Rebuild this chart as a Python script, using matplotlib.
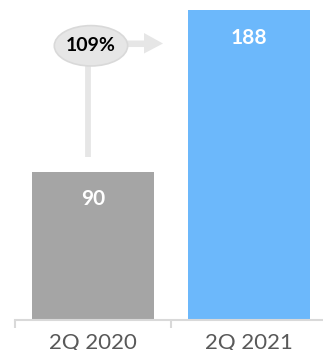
import matplotlib
matplotlib.use("Agg")
import matplotlib.pyplot as plt
from matplotlib.patches import Ellipse, Polygon

categories = ["2Q 2020", "2Q 2021"]
values = [90, 188]
growth_label = "109%"

BAR_COLORS = ["#a5a5a5", "#6cb8fb"]
AXIS_GRAY = "#d9d9d9"
plt.rcParams["font.family"] = ["Lato", "DejaVu Sans"]

W, H = 323, 350
fig = plt.figure(figsize=(W / 100, H / 100), dpi=100)
# axis line sits ~30px above the bottom, category slots are 156px wide
ax = fig.add_axes([15 / W, 30 / H, 1.0, 320 / H])
ax.set_xlim(-0.5, -0.5 + W / 156)
ax.set_ylim(0, 194.3)

x = list(range(len(categories)))
ax.bar(x, values, width=0.78, color=BAR_COLORS)

for xi, v in zip(x, values):
    ax.text(xi, v - 16.5, str(v), ha="center", va="center", color="white",
            fontsize=15, fontweight="bold")

# growth callout: stem from the 2020 bar up to an ellipse, arrow to 2021
ex, ey = -0.013, 166.5
ax.plot([-0.03, -0.03], [99, ey], color="#e6e6e6", lw=4.2, solid_capstyle="butt", zorder=1)
ax.add_patch(Ellipse((ex, ey), 0.47, 24.5, facecolor="#e6e6e6", edgecolor="#d9d9d9",
                     lw=1.2, zorder=3))
px = lambda p: (p - 15) / 156 - 0.5
py = lambda p: (320 - p) / 1.647
arrow = [(px(127), py(40.5)), (px(144), py(40.5)), (px(144), py(33)), (px(163), py(43.5)),
         (px(144), py(53.5)), (px(144), py(47)), (px(127), py(47))]
ax.add_patch(Polygon(arrow, closed=True, facecolor="#e6e6e6", edgecolor="none", zorder=2))
ax.text(ex, ey, growth_label, ha="center", va="center", fontsize=14,
        fontweight="bold", color="black", zorder=4)

for s in ["top", "right", "left"]:
    ax.spines[s].set_visible(False)
ax.spines["bottom"].set_color(AXIS_GRAY)
ax.spines["bottom"].set_linewidth(1.5)
ax.set_yticks([])
ax.set_xticks(x)
ax.set_xticklabels(categories, fontsize=16, color="#595959")
ax.tick_params(axis="x", which="major", length=0, pad=9)
ax.set_xticks([-0.5, 0.5, 1.5], minor=True)
ax.tick_params(axis="x", which="minor", length=6, width=1.5, color=AXIS_GRAY)

fig.savefig("out.png", dpi=100)
